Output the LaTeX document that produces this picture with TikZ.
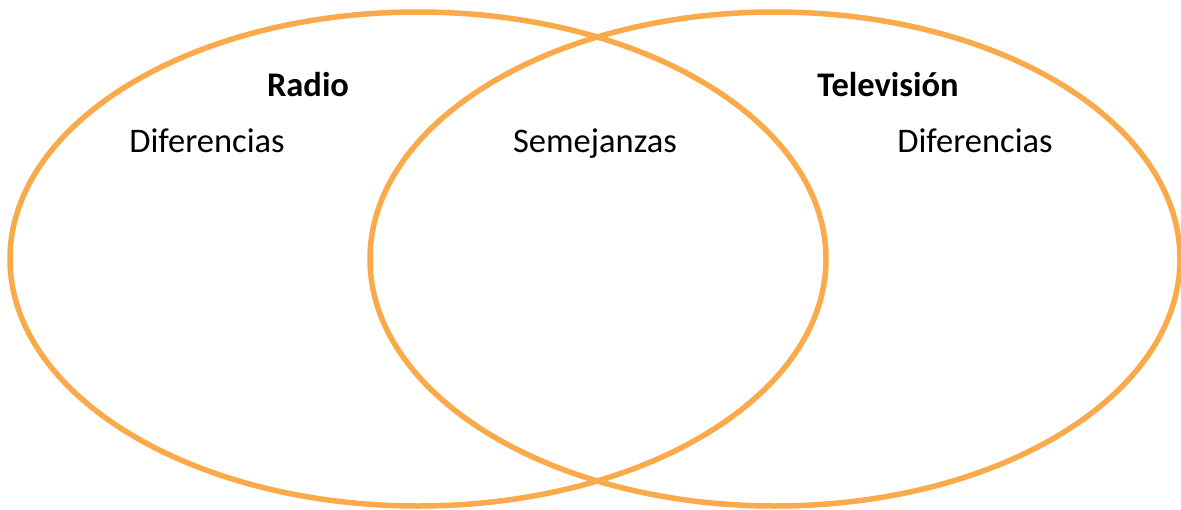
\documentclass[tikz,border=0pt]{standalone}
\usepackage{fontspec}
\setmainfont{Carlito}
\definecolor{venn}{RGB}{250,170,75}
\begin{document}
\begin{tikzpicture}[x=1pt,y=-1pt,
  ring/.style={draw=venn,line width=5.5pt},
  lbl/.style={font=\fontsize{34.5}{40}\selectfont,inner sep=0pt,anchor=base},
  ttl/.style={font=\fontsize{34.5}{40}\selectfont\bfseries,inner sep=0pt,anchor=base}]
\useasboundingbox (0,0) rectangle (1181,509);
\draw[ring] (418,259) ellipse [x radius=408, y radius=247];
\draw[ring] (775,259) ellipse [x radius=405, y radius=247];
\node[ttl] (radio) at (308,96) {Radio};
\node[ttl] (tv) at (888,96) {Televisión};
\node[lbl] (d1) at (207,152) {Diferencias};
\node[lbl] (sem) at (595,152) {Semejanzas};
\node[lbl] (d2) at (975,152) {Diferencias};
\end{tikzpicture}
\end{document}
